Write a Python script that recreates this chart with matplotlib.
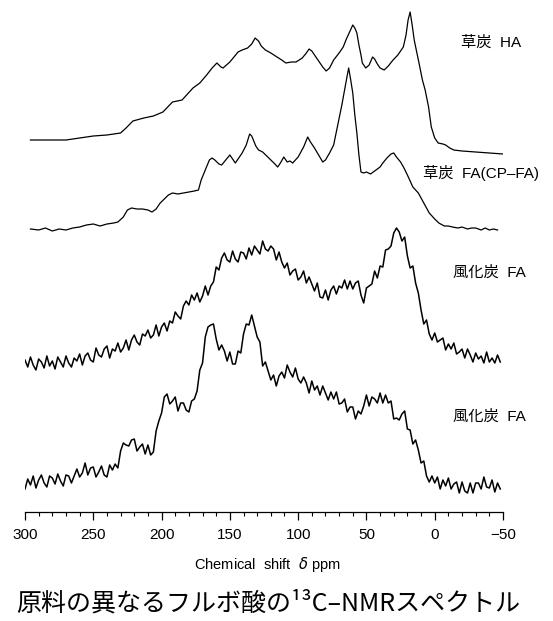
#
# 13C-NMR スペクトル（原料の異なるフルボ酸）
#

import matplotlib
matplotlib.use('Agg')
import matplotlib.pyplot as plt
from matplotlib.ticker import MultipleLocator

plt.rcParams['font.family'] = ['Liberation Sans', 'Noto Sans CJK JP', 'DejaVu Sans']

# 草炭 HA
ppm_ha = [296, 285, 270, 260, 250, 240, 230, 226, 221, 213, 206, 199, 192, 185, 177, 172, 167, 163,
          159.5, 156.5, 155, 150, 144, 141, 137, 134, 131.5, 129, 127, 124, 120, 115.5, 112, 109, 105,
          101.5, 97, 94, 92, 90, 88, 85.5, 82, 79.5, 77, 74, 70, 67, 65, 62, 60, 58.5, 57, 55.5, 54, 53,
          50.5, 48, 45.5, 44, 42, 40, 37, 34, 30.5, 27, 25, 23, 21, 19.5, 18, 16.5, 15, 13.5, 11.5, 9, 7,
          4.5, 2.5, 0, -2.5, -6, -8, -11, -14, -20, -30, -40, -50]
int_ha = [10, 10, 10, 12, 14, 15, 17, 22, 29, 32, 34, 38, 48, 50, 62, 67, 75, 82,
          87, 83, 82, 88, 98, 100, 102, 106, 112, 109, 104, 100, 97, 93, 90, 87, 88,
          88, 92, 97, 101, 99, 95, 90, 83, 79, 82, 90, 97, 103, 110, 119, 125, 122, 117, 105, 95, 87,
          82, 85, 93, 91, 86, 82, 80, 84, 90, 95, 99, 103, 115, 130, 138, 125, 110, 100, 87, 70, 60,
          43, 23, 12, 7, 6, 5, 2, 0, -1, -2, -3, -4]

# 草炭 FA(CP-FA)
ppm_cp = [296, 290, 285, 280, 275, 270, 265, 260, 255, 250, 245, 240, 235, 232, 228, 225, 222, 218,
          214, 210, 207, 204, 201, 198, 195, 192, 188, 184, 180, 176, 173, 171, 168, 165, 163, 161, 158,
          156, 153, 150, 148, 146, 143, 141, 138, 135.5, 134, 131, 129, 126, 123, 120, 117, 115, 113,
          110.5, 108, 106, 104, 100, 96, 93, 91, 88.5, 85, 82, 80, 77, 74, 71, 68, 66, 64, 63, 61.5, 60,
          58.5, 57, 55.5, 54, 52, 50, 47, 44, 42, 40, 38, 35, 32, 30, 28, 25, 22.5, 20, 16, 12, 8, 4, 0,
          -3, -7, -10, -13, -17, -20, -24, -27, -30, -34, -37, -40, -43, -46]
int_cp = [1, 0, 2, -1, 1, 0, 2, 3, 5, 6, 4, 6, 7, 8, 13, 20, 22, 21,
          21, 20, 18, 21, 27, 31, 35, 37, 36, 37, 38, 39, 40, 50, 60, 70, 72, 70, 66,
          65, 70, 75, 71, 67, 73, 77, 85, 96, 94, 84, 80, 78, 74, 70, 66, 63, 67,
          73, 68, 69, 67, 73, 83, 93, 88, 83, 75, 68, 70, 77, 85, 105, 125, 140, 155, 162, 150, 137,
          115, 97, 75, 58, 57, 58, 56, 59, 61, 63, 67, 72, 76, 77, 73, 68, 62, 55, 43, 37, 27, 17, 11,
          7, 4, 4, 3, 2, 3, 1, 2, 2, 0, 2, 0, 1, 0]

# 風化炭 FA（2 試料共通の ppm 点）
ppm_wc = [300, 298, 296, 294, 292, 290, 288, 286, 284, 282, 280, 278, 276, 274, 272, 270, 268, 266,
          264, 262, 260, 258, 256, 254, 252, 250, 248, 246, 244, 242, 240, 238, 236, 234, 232, 230,
          228, 226, 224, 222, 220, 218, 216, 214, 212, 210, 208, 206, 204, 202, 200, 198, 196, 194,
          192, 190, 188, 186, 184, 182, 180, 178, 176, 174, 172, 170, 168, 166, 164, 162, 160, 158,
          156, 154, 152, 150, 148, 146, 144, 142, 140, 138, 136, 134, 132, 130, 128, 126, 124, 122,
          120, 118, 116, 114, 112, 110, 108, 106, 104, 102, 100, 98, 96, 94, 92, 90, 88, 86, 84, 82,
          80, 78, 76, 74, 72, 70, 68, 66, 64, 62, 60, 58, 56, 54, 52, 50, 48, 46, 44, 42, 40, 38, 36,
          34, 32, 30, 28, 26, 24, 22, 20, 18, 16, 14, 12, 10, 8, 6, 4, 2, 0, -2, -4, -6, -8, -10, -12,
          -14, -16, -18, -20, -22, -24, -26, -28, -30, -32, -34, -36, -38, -40, -42, -44, -46, -48]
int_wc1 = [3, -4, 6, -2, -7, 4, 1, -5, 7, -3, 2, -6, 6, 1, -4, 7, 0, -4,
           5, 2, 9, -2, 7, 10, 3, 1, 15, 8, 6, 14, 17, 5, 14, 12, 20, 11,
           15, 23, 13, 23, 28, 21, 18, 29, 27, 33, 25, 28, 38, 27, 36, 40, 32, 42,
           40, 51, 47, 44, 57, 62, 58, 68, 63, 70, 61, 67, 77, 68, 77, 81, 96, 93,
           105, 110, 103, 101, 112, 104, 101, 111, 110, 104, 115, 108, 117, 113, 109, 122, 114, 112,
           117, 114, 103, 111, 101, 95, 100, 88, 92, 94, 83, 86, 92, 80, 86, 79, 72, 80, 66, 65,
           73, 63, 73, 77, 69, 77, 75, 83, 74, 82, 74, 80, 82, 68, 60, 75, 77, 79, 92, 85, 97, 96, 113,
           114, 117, 130, 135, 131, 122, 126, 107, 95, 97, 80, 70, 53, 39, 43, 29, 23, 30, 21, 23, 25, 13, 19, 14,
           20, 9, 11, 14, 5, 14, 8, 1, 10, 4, 7, 0, 11, 1, 5, 0, 8, 1]
int_wc2 = [-2, 8, 2, 11, -1, 7, 12, 4, 0, 11, 9, 3, 13, 6, 1, 12, 11, 4,
           11, 18, 10, 14, 24, 12, 19, 20, 10, 15, 21, 12, 10, 22, 17, 23, 19, 36,
           44, 42, 41, 47, 48, 36, 40, 43, 33, 42, 32, 35, 56, 66, 74, 90, 93, 83,
           86, 90, 76, 84, 84, 77, 75, 86, 88, 96, 117, 124, 150, 160, 162, 163, 148, 137,
           142, 136, 126, 135, 123, 123, 136, 134, 153, 163, 162, 172, 161, 150, 145, 121, 125, 116,
           107, 112, 101, 111, 115, 109, 122, 115, 110, 119, 108, 104, 110, 104, 94, 106, 97, 101, 92, 101,
           94, 87, 95, 88, 95, 83, 84, 88, 75, 80, 80, 68, 76, 73, 81, 92, 81, 90, 88, 84, 94, 84, 92,
           84, 86, 68, 69, 67, 73, 76, 58, 57, 43, 47, 37, 24, 26, 11, 5, 11, 4, 10, -2, 7, 1, 9, -2,
           3, 5, -6, 5, -4, -6, 4, -6, 4, 4, -2, 10, 0, -1, 7, -5, 4, -2]

labels = ['草炭  HA', '草炭  FA(CP–FA)', '風化炭  FA', '風化炭  FA']
x_ticks = [300, 250, 200, 150, 100, 50, 0, -50]


def main():
    fig = plt.figure(figsize=(5.53, 6.21), dpi=100, facecolor='white')
    ax = fig.add_axes([25 / 553, 1 - 511.5 / 621, 478 / 553, 511.5 / 621])

    # 縦方向のずらし量（上から順）
    offsets = [361.5, 281.5, 148.5, 24.5]
    series = [(ppm_ha, int_ha), (ppm_cp, int_cp), (ppm_wc, int_wc1), (ppm_wc, int_wc2)]
    widths = [0.9, 0.9, 1.1, 1.1]
    for (xs, ys), off, lw in zip(series, offsets, widths):
        ax.plot(xs, [v + off for v in ys], color='black', lw=lw)

    ax.set_xlim(300, -50)
    ax.set_ylim(0, 511.5)
    ax.set_xticks(x_ticks)
    ax.xaxis.set_minor_locator(MultipleLocator(10))
    ax.set_yticks([])
    for s in ['left', 'right', 'top']:
        ax.spines[s].set_visible(False)
    ax.spines['bottom'].set_linewidth(0.9)
    ax.tick_params(axis='x', which='major', direction='out', length=6, width=0.9, pad=6, labelsize=11)
    ax.tick_params(axis='x', which='minor', direction='out', length=3, width=0.8)
    ax.patch.set_alpha(0)

    # スペクトル名
    lab_pos = [(461, 43), (423, 173), (453, 273), (453, 417)]
    for t, (px, py) in zip(labels, lab_pos):
        fig.text(px / 553, 1 - py / 621, t, ha='left', va='center', fontsize=11)

    fig.text(267.5 / 553, 1 - 565 / 621, 'Chemical  shift  $\\delta$ ppm', ha='center', va='center',
             fontsize=10.5)
    fig.text(268 / 553, 1 - 604 / 621, '原料の異なるフルボ酸の¹³C–NMRスペクトル', ha='center', va='center',
             fontsize=18, family=['Noto Sans CJK JP', 'DejaVu Sans'])

    fig.savefig('out.png', dpi=100, facecolor='white')


if __name__ == '__main__':
    main()
